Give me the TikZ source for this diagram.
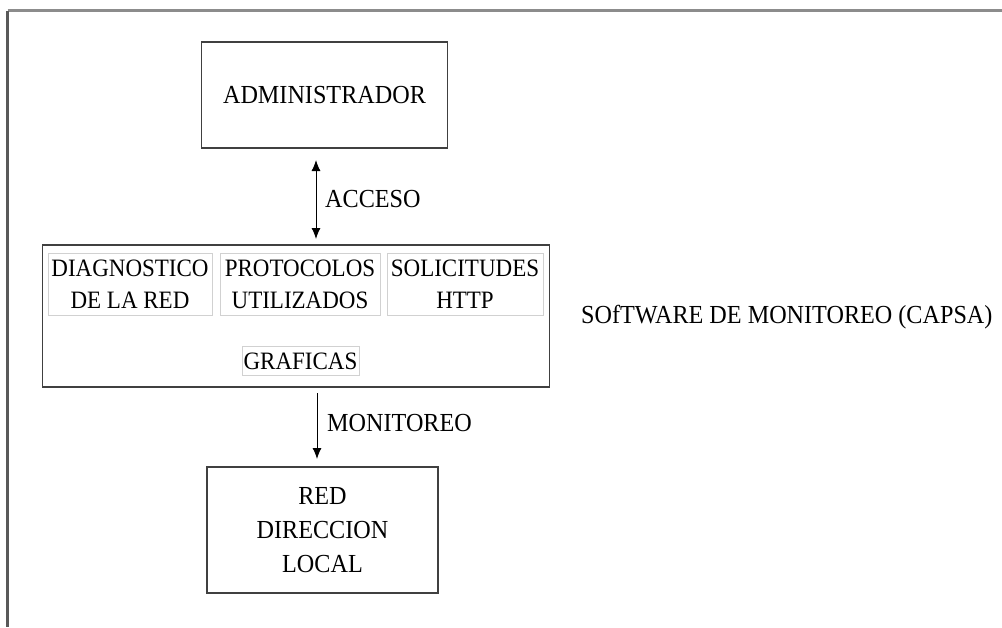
\documentclass[tikz,border=0pt]{standalone}
\usepackage{fontspec}
\setmainfont{Liberation Serif}
\newfontfamily\outerfont[FakeStretch=0.93]{Liberation Serif}
\newfontfamily\innerfont[FakeStretch=0.92]{Liberation Serif}
\usetikzlibrary{arrows.meta}
\begin{document}
\begin{tikzpicture}[x=1pt,y=-1pt,
  bigbox/.style={draw=black!75,line width=1.4pt,inner sep=0pt},
  subbox/.style={draw=black!18,line width=1pt,inner sep=0pt,align=center},
  txt/.style={font=\outerfont\fontsize{26}{34}\selectfont,align=center},
  itxt/.style={font=\innerfont\fontsize{25}{32}\selectfont,align=center},
  tip/.tip={Latex[length=11pt,width=9pt]},
  conn/.style={line width=1pt,-tip},
  frame/.style={line width=3pt}]
\useasboundingbox (0,0) rectangle (1002,627);
\fill[white] (0,0) rectangle (1002,627);
% outer frame
\coordinate (fa) at (1002,10.5);
\coordinate (fb) at (7.5,10.5);
\coordinate (fc) at (7.5,627);
\draw[frame,draw=black!45] (fb) -- (fa);
\draw[frame,draw=black!65] (fb) -- (fc);
% boxes
\node[bigbox,minimum width=246pt,minimum height=106pt,txt] (adm) at (324.5,95) {ADMINISTRADOR};
\node[bigbox,minimum width=507pt,minimum height=142pt] (sw) at (296,316) {};
\node[subbox,minimum width=164pt,minimum height=62pt,itxt] (diag) at (130,284) {DIAGNOSTICO\\DE LA RED};
\node[subbox,minimum width=160pt,minimum height=62pt,itxt] (prot) at (300,284) {PROTOCOLOS\\UTILIZADOS};
\node[subbox,minimum width=156pt,minimum height=62pt,itxt] (sol) at (465,284) {SOLICITUDES\\HTTP};
\node[subbox,minimum width=117pt,minimum height=29pt,itxt] (graf) at (300.5,361) {GRAFICAS};
\node[txt,anchor=west,inner sep=0pt] (swl) at (581,317) {SOfTWARE DE MONITOREO (CAPSA)};
\node[bigbox,minimum width=231pt,minimum height=126pt,txt] (red) at (322.5,530) {RED\\DIRECCION\\LOCAL};
% connectors
\coordinate (a1) at (316,160);
\coordinate (a2) at (316,239);
\draw[line width=1pt,tip-tip] (a1) -- (a2);
\node[txt,anchor=west,inner sep=0pt] (acc) at (325,199) {ACCESO};
\coordinate (m1) at (317,393);
\coordinate (m2) at (317,459);
\draw[conn] (m1) -- (m2);
\node[txt,anchor=west,inner sep=0pt] (mon) at (327,423) {MONITOREO};
\end{tikzpicture}
\end{document}
